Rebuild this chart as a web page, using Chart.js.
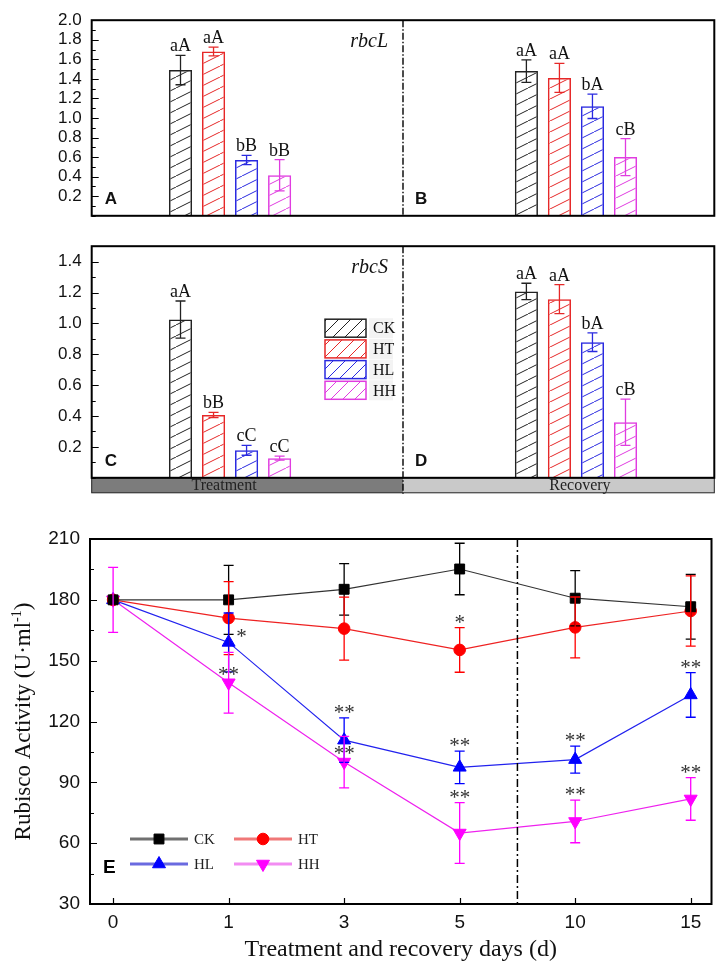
<!DOCTYPE html>
<html>
<head>
<meta charset="utf-8">
<script src="https://cdn.jsdelivr.net/npm/chart.js@4.4.1/dist/chart.umd.min.js"></script>
<style>
  body { margin: 0; background: #fff; }
  #wrap { position: relative; width: 720px; height: 965px; }
  .box { position: absolute; left: 0; width: 720px; }
</style>
</head>
<body>
<div id="wrap">
  <div class="box" style="top:0;height:236px"><canvas id="cL"></canvas></div>
  <div class="box" style="top:226px;height:272px"><canvas id="cS"></canvas></div>
  <div class="box" style="top:500px;height:465px"><canvas id="cE"></canvas></div>
</div>
<script>
// groups and stages
const groups = ['CK', 'HT', 'HL', 'HH'];
const stages = ['Treatment', 'Recovery'];

// rbcL relative expression (A: treatment, B: recovery), order CK, HT, HL, HH
const rbcLTreat = [1.49, 1.68, 0.57, 0.415];
const rbcLTreatErr = [0.15, 0.045, 0.047, 0.16];
const rbcLTreatSig = ['aA', 'aA', 'bB', 'bB'];
const rbcLRecov = [1.48, 1.41, 1.12, 0.60];
const rbcLRecovErr = [0.115, 0.148, 0.125, 0.19];
const rbcLRecovSig = ['aA', 'aA', 'bA', 'cB'];

// rbcS relative expression (C: treatment, D: recovery)
const rbcSTreat = [1.025, 0.407, 0.178, 0.127];
const rbcSTreatErr = [0.12, 0.017, 0.032, 0.013];
const rbcSTreatSig = ['aA', 'bB', 'cC', 'cC'];
const rbcSRecov = [1.207, 1.157, 0.878, 0.36];
const rbcSRecovErr = [0.053, 0.094, 0.06, 0.15];
const rbcSRecovSig = ['aA', 'aA', 'bA', 'cB'];

// Rubisco activity (E)
const days = ['0', '1', '3', '5', '10', '15'];
const actCK = [180, 180, 185.2, 195.2, 180.8, 176.6];
const errCK = [0, 17, 12.7, 12.7, 13.6, 16];
const actHT = [180, 171, 165.8, 155.3, 166.4, 174.5];
const errHT = [0, 18, 15.5, 11, 15, 17.3];
const actHL = [180, 159, 110.8, 97.4, 101.2, 133.1];
const errHL = [0, 14.5, 11, 8, 6.7, 11];
const actHH = [180, 139.1, 100, 65, 70.7, 81.8];
const errHH = [16, 15, 12.7, 15, 10.5, 10.5];
const sigCK = ['', '', '', '', '', ''];
const sigHT = ['', '', '', '*', '', ''];
const sigHL = ['', '*', '**', '**', '**', '**'];
const sigHH = ['', '**', '**', '**', '**', '**'];

const barColors = ['#222222', '#e62828', '#2a2ae0', '#e03ce0'];
const SERIF = '"Liberation Serif", "Times New Roman", serif';
const SANS = '"Liberation Sans", Arial, sans-serif';

// diagonal hatch fill
function makeHatch(color, w, h) {
  const c = document.createElement('canvas');
  c.width = w; c.height = h;
  const g = c.getContext('2d');
  g.strokeStyle = color;
  g.lineWidth = 1;
  g.beginPath();
  for (let k = -1; k <= 1; k++) { g.moveTo(k * w, h); g.lineTo(k * w + w, 0); }
  g.stroke();
  return g.createPattern(c, 'repeat');
}

function leftTicks(ctx, scale, a) {
  ctx.strokeStyle = '#000';
  ctx.lineWidth = 1.2;
  ctx.beginPath();
  scale.ticks.forEach(t => {
    const py = Math.round(scale.getPixelForValue(t.value)) + 0.5;
    const len = t.label !== '' ? 7 : 4;
    ctx.moveTo(a.left, py); ctx.lineTo(a.left + len, py);
  });
  ctx.stroke();
}

const barExtras = {
  id: 'barExtras',
  afterDraw(chart, args, o) {
    const { ctx, chartArea: a, scales: { x, y } } = chart;
    ctx.save();
    // error bars and letters
    chart.data.datasets.forEach((ds, i) => {
      chart.getDatasetMeta(i).data.forEach((bar, j) => {
        const v = ds.data[j].y, e = o.errs[j][i];
        const top = y.getPixelForValue(v + e), bot = y.getPixelForValue(v - e);
        ctx.strokeStyle = barColors[i];
        ctx.lineWidth = 1.3;
        ctx.beginPath();
        ctx.moveTo(bar.x, top); ctx.lineTo(bar.x, bot);
        ctx.moveTo(bar.x - 5, top); ctx.lineTo(bar.x + 5, top);
        ctx.moveTo(bar.x - 5, bot); ctx.lineTo(bar.x + 5, bot);
        ctx.stroke();
        ctx.fillStyle = '#111';
        ctx.font = '18px ' + SERIF;
        ctx.textAlign = 'center';
        ctx.textBaseline = 'alphabetic';
        ctx.fillText(o.sigs[j][i], bar.x, top - 4);
      });
    });
    const mid = x.getPixelForValue(0.5);
    // stage strip under the lower panel
    if (o.lower) {
      ctx.fillStyle = '#7c7c7c';
      ctx.fillRect(a.left, a.bottom, mid - a.left, 15);
      ctx.fillStyle = '#c9c9c9';
      ctx.fillRect(mid, a.bottom, a.right - mid, 15);
      ctx.strokeStyle = '#222';
      ctx.lineWidth = 1;
      ctx.strokeRect(a.left, a.bottom, a.right - a.left, 15);
      ctx.fillStyle = '#222';
      ctx.font = '16px ' + SERIF;
      ctx.textAlign = 'center';
      ctx.textBaseline = 'middle';
      stages.forEach((s, j) => ctx.fillText(s, x.getPixelForValue(j) - (j === 0 ? 6 : -4), a.bottom + 8));
      // legend
      ctx.textAlign = 'left';
      ctx.font = '16px ' + SERIF;
      groups.forEach((g, i) => {
        const lx = mid - 78, ly = a.top + 73 + i * 20.7;
        ctx.fillStyle = '#f3f3f3';
        ctx.fillRect(lx + 44, ly - 1, 24, 20);
        ctx.fillStyle = makeHatch(barColors[i], 12, 12);
        ctx.fillRect(lx, ly, 41, 18);
        ctx.strokeStyle = barColors[i];
        ctx.lineWidth = 1.5;
        ctx.strokeRect(lx, ly, 41, 18);
        ctx.fillStyle = '#111';
        ctx.fillText(g, lx + 48, ly + 10);
      });
    }
    // frame
    ctx.strokeStyle = '#000';
    ctx.lineWidth = 2;
    ctx.strokeRect(a.left, a.top, a.right - a.left, a.bottom - a.top);
    leftTicks(ctx, y, a);
    // treatment / recovery divider
    ctx.setLineDash([7, 2, 1.5, 2]);
    ctx.lineWidth = 1.4;
    ctx.beginPath();
    ctx.moveTo(mid, a.top); ctx.lineTo(mid, a.bottom + (o.lower ? 16 : 0));
    ctx.stroke();
    ctx.setLineDash([]);
    // gene name and panel letters
    ctx.fillStyle = '#111';
    ctx.font = 'italic 20px ' + SERIF;
    ctx.textAlign = 'right';
    ctx.textBaseline = 'middle';
    ctx.fillText(o.gene, mid - 15, a.top + 22);
    ctx.font = 'bold 17px ' + SANS;
    ctx.textAlign = 'left';
    ctx.fillText(o.letters[0], a.left + 13, a.bottom - 16);
    ctx.fillText(o.letters[1], mid + 12, a.bottom - 16);
    ctx.restore();
  }
};

function barChart(id, vals, errs, sigs, yMax, gene, letters, lower) {
  const datasets = groups.map((g, i) => ({
    label: g,
    data: stages.map((s, j) => ({ x: j, y: vals[j][i] })),
    backgroundColor: makeHatch(barColors[i], 22, 11),
    borderColor: barColors[i],
    borderWidth: 1.5,
    categoryPercentage: 0.382,
    barPercentage: 0.7
  }));
  return new Chart(document.getElementById(id), {
    type: 'bar',
    data: { datasets },
    options: {
      responsive: true,
      maintainAspectRatio: false,
      animation: false,
      layout: { padding: { top: 5, right: 5.7, bottom: lower ? 19.7 : 5.5, left: 0 } },
      plugins: {
        legend: { display: false },
        tooltip: { enabled: false },
        barExtras: { errs, sigs, gene, letters, lower }
      },
      scales: {
        x: {
          type: 'linear', display: false, offset: false, min: -0.4, max: 1.4,
          ticks: { stepSize: 1, includeBounds: false },
          grid: { display: false }
        },
        y: {
          min: 0, max: yMax,
          afterFit: s => { s.width = 91.7; },
          border: { display: false },
          grid: { display: false, drawTicks: false },
          ticks: {
            stepSize: 0.1, autoSkip: false, padding: 10, color: '#111',
            font: { family: SANS, size: 17 },
            callback: v => {
              const k = Math.round(v * 10);
              return k > 0 && k % 2 === 0 ? (k / 10).toFixed(1) : '';
            }
          }
        }
      }
    },
    plugins: [barExtras]
  });
}

barChart('cL', [rbcLTreat, rbcLRecov], [rbcLTreatErr, rbcLRecovErr], [rbcLTreatSig, rbcLRecovSig], 2.0, 'rbcL', ['A', 'B'], false);
barChart('cS', [rbcSTreat, rbcSRecov], [rbcSTreatErr, rbcSRecovErr], [rbcSTreatSig, rbcSRecovSig], 1.5, 'rbcS', ['C', 'D'], true);

// ---- panel E: Rubisco activity ----
const lineSeries = [
  { label: 'CK', vals: actCK, err: errCK, sig: sigCK, color: '#000000', line: '#333333', legendLine: '#707070', style: 'rect', r: 7, rot: 0 },
  { label: 'HT', vals: actHT, err: errHT, sig: sigHT, color: '#ff0000', line: '#ee2222', legendLine: '#f07878', style: 'circle', r: 5.8, rot: 0 },
  { label: 'HL', vals: actHL, err: errHL, sig: sigHL, color: '#0000ff', line: '#2222ee', legendLine: '#6a6ae0', style: 'triangle', r: 7.5, rot: 0 },
  { label: 'HH', vals: actHH, err: errHH, sig: sigHH, color: '#ff00ff', line: '#ee22ee', legendLine: '#f28cf2', style: 'triangle', r: 7.5, rot: 180 }
];
// where a significance mark is not placed above its error bar
const starSpots = { 'HL-1': 'right', 'HH-1': 'marker', 'HH-2': 'marker' };

const lineExtras = {
  id: 'lineExtras',
  afterDatasetsDraw(chart) {
    const { ctx, scales: { y } } = chart;
    ctx.save();
    lineSeries.forEach((s, i) => {
      chart.getDatasetMeta(i).data.forEach((pt, j) => {
        const e = s.err[j];
        if (!e) return;
        const top = y.getPixelForValue(s.vals[j] + e), bot = y.getPixelForValue(s.vals[j] - e);
        ctx.strokeStyle = s.color;
        ctx.lineWidth = 1.3;
        ctx.beginPath();
        ctx.moveTo(pt.x, top); ctx.lineTo(pt.x, bot);
        ctx.moveTo(pt.x - 5, top); ctx.lineTo(pt.x + 5, top);
        ctx.moveTo(pt.x - 5, bot); ctx.lineTo(pt.x + 5, bot);
        ctx.stroke();
      });
    });
    ctx.restore();
  },
  afterDraw(chart) {
    const { ctx, chartArea: a, scales: { x, y } } = chart;
    ctx.save();
    // significance marks
    ctx.fillStyle = '#333';
    ctx.font = '21px ' + SERIF;
    ctx.textAlign = 'center';
    ctx.textBaseline = 'alphabetic';
    lineSeries.forEach((s, i) => {
      chart.getDatasetMeta(i).data.forEach((pt, j) => {
        if (!s.sig[j]) return;
        const spot = starSpots[s.label + '-' + j];
        let cx = pt.x, cy = y.getPixelForValue(s.vals[j] + s.err[j]) - 9;
        if (spot === 'right') { cx = pt.x + 13; cy = pt.y - 9; }
        if (spot === 'marker') { cy = pt.y - 12; }
        ctx.fillText(s.sig[j], cx, cy + 10);
      });
    });
    // frame and ticks
    ctx.strokeStyle = '#000';
    ctx.lineWidth = 2;
    ctx.strokeRect(a.left, a.top, a.right - a.left, a.bottom - a.top);
    leftTicks(ctx, y, a);
    ctx.beginPath();
    x.ticks.forEach(t => {
      const px = Math.round(x.getPixelForValue(t.value)) + 0.5;
      ctx.moveTo(px, a.bottom); ctx.lineTo(px, a.bottom - 6);
    });
    ctx.stroke();
    // treatment / recovery divider
    const mid = x.getPixelForValue(3.5);
    ctx.setLineDash([8, 3, 2, 3]);
    ctx.lineWidth = 1.5;
    ctx.beginPath();
    ctx.moveTo(mid, a.top); ctx.lineTo(mid, a.bottom);
    ctx.stroke();
    ctx.setLineDash([]);
    // legend
    ctx.font = '15px ' + SERIF;
    ctx.textAlign = 'left';
    ctx.textBaseline = 'middle';
    lineSeries.forEach((s, i) => {
      const col = i % 2, row = Math.floor(i / 2);
      const lx = a.left + 40 + col * 104, ly = a.bottom - 65 + row * 25;
      ctx.strokeStyle = s.legendLine;
      ctx.lineWidth = 3;
      ctx.beginPath();
      ctx.moveTo(lx, ly); ctx.lineTo(lx + 58, ly);
      ctx.stroke();
      ctx.fillStyle = s.color;
      ctx.strokeStyle = s.color;
      ctx.lineWidth = 1;
      Chart.helpers.drawPoint(ctx, { pointStyle: s.style, radius: s.r, rotation: s.rot, borderWidth: 1 }, lx + 29, ly);
      ctx.fillStyle = '#222';
      ctx.fillText(s.label, lx + 64, ly + 1);
    });
    ctx.fillStyle = '#000';
    ctx.font = 'bold 19px ' + SANS;
    ctx.fillText('E', a.left + 13, a.bottom - 36);
    // y title with superscript
    ctx.translate(22, (a.top + a.bottom) / 2);
    ctx.rotate(-Math.PI / 2);
    ctx.fillStyle = '#111';
    const main = 'Rubisco Activity (U\u00b7ml', sup = '-1', tail = ')';
    ctx.font = '23px ' + SERIF;
    const w1 = ctx.measureText(main).width, w3 = ctx.measureText(tail).width;
    ctx.font = '14px ' + SERIF;
    const w2 = ctx.measureText(sup).width;
    let sx = -(w1 + w2 + w3) / 2;
    ctx.textBaseline = 'alphabetic';
    ctx.textAlign = 'left';
    ctx.font = '23px ' + SERIF;
    ctx.fillText(main, sx, 8);
    ctx.font = '14px ' + SERIF;
    ctx.fillText(sup, sx + w1, -1);
    ctx.font = '23px ' + SERIF;
    ctx.fillText(tail, sx + w1 + w2, 8);
    ctx.restore();
  }
};

new Chart(document.getElementById('cE'), {
  type: 'line',
  data: {
    datasets: lineSeries.map(s => ({
      label: s.label,
      data: s.vals.map((v, i) => ({ x: i, y: v })),
      borderColor: s.line,
      borderWidth: 1.2,
      backgroundColor: s.color,
      pointStyle: s.style,
      pointRadius: s.r,
      pointRotation: s.rot,
      pointBorderColor: s.color,
      pointBackgroundColor: s.color,
      pointBorderWidth: 1,
      tension: 0
    }))
  },
  options: {
    responsive: true,
    maintainAspectRatio: false,
    animation: false,
    layout: { padding: { top: 39, right: 6, bottom: 0, left: 0 } },
    plugins: { legend: { display: false }, tooltip: { enabled: false } },
    scales: {
      x: {
        type: 'linear', min: -0.2, max: 5.18,
        afterFit: s => { s.height = 61; },
        border: { display: false },
        grid: { display: false, drawTicks: false },
        ticks: {
          stepSize: 1, includeBounds: false, autoSkip: false, padding: 7, color: '#111',
          font: { family: SANS, size: 19 },
          callback: v => days[v] !== undefined ? days[v] : ''
        },
        title: {
          display: true, text: 'Treatment and recovery days (d)', color: '#111',
          font: { family: SERIF, size: 24 }, padding: { top: 0, bottom: 1 }
        }
      },
      y: {
        min: 30, max: 210,
        afterFit: s => { s.width = 90; },
        border: { display: false },
        grid: { display: false, drawTicks: false },
        ticks: {
          stepSize: 15, autoSkip: false, padding: 10, color: '#111',
          font: { family: SANS, size: 19 },
          callback: v => v % 30 === 0 ? String(v) : ''
        }
      }
    }
  },
  plugins: [lineExtras]
});
</script>
</body>
</html>
